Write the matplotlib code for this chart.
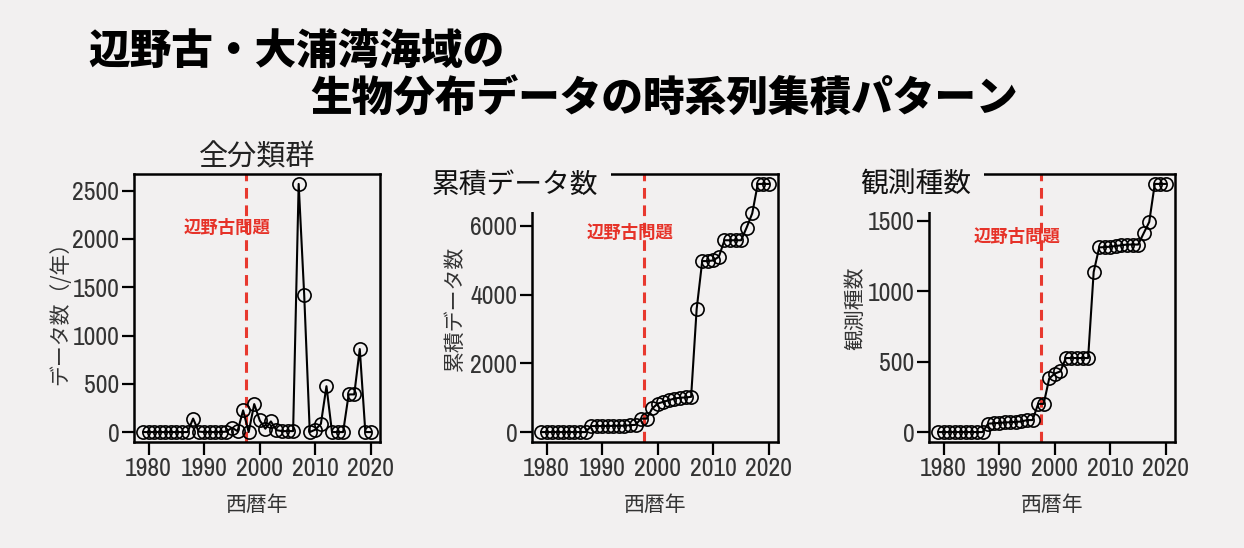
import matplotlib.pyplot as plt
from matplotlib import font_manager

# CJK font first, DejaVu as fallback for anything missing
plt.rcParams['font.family'] = ['Noto Sans CJK JP', 'DejaVu Sans']

# data
years = list(range(1979, 2021))
annual_counts = [0, 0, 0, 0, 0, 0, 0, 0, 0, 140,
                 5, 0, 0, 0, 0, 5, 45, 10, 225, 0,
                 290, 120, 35, 110, 20, 10, 10, 10, 2570, 1415,
                 0, 25, 85, 475, 0, 0, 0, 390, 390, 860,
                 0, 0]
cumulative_counts = [0, 0, 0, 0, 0, 0, 0, 0, 0, 175,
                     175, 175, 178, 180, 182, 185, 200, 210, 392, 392,
                     686, 830, 880, 928, 976, 1000, 1006, 1025, 3582, 4975,
                     4975, 4995, 5104, 5581, 5581, 5581, 5581, 5952, 6362, 7220,
                     7220, 7220]
species_counts = [0, 0, 0, 0, 0, 0, 0, 0, 0, 60,
                  62, 65, 68, 70, 72, 75, 85, 85, 200, 200,
                  380, 415, 430, 525, 525, 525, 525, 525, 1135, 1310,
                  1312, 1315, 1320, 1325, 1330, 1330, 1330, 1410, 1490, 1760,
                  1760, 1760]

panel_titles = ['全分類群', '累積データ数', '観測種数']
y_labels = ['データ数（/年）', '累積データ数', '観測種数']
y_ticks = [[0, 500, 1000, 1500, 2000, 2500],
           [0, 2000, 4000, 6000],
           [0, 500, 1000, 1500]]
x_ticks = [1980, 1990, 2000, 2010, 2020]
event_year = 1997.5
event_label = '辺野古問題'
title_line1 = '辺野古・大浦湾海域の'
title_line2 = '生物分布データの時系列集積パターン'

bg = '#f2f0f0'

# tick numbers in the reference are in a narrow font; use one if installed
tick_font = None
tick_stretch = 'normal'
tick_size = 18.5
for f in font_manager.fontManager.ttflist:
    if 'Narrow' in f.name or 'Condensed' in f.name:
        tick_font = f.name
        break
if tick_font is None:
    for f in font_manager.fontManager.ttflist:
        if f.stretch in ('condensed', 'semi-condensed', 'extra-condensed') and 'Mono' not in f.name:
            tick_font = f.name
            tick_stretch = f.stretch
            tick_size = 15
            break
if tick_font is None:
    tick_font = 'Liberation Sans'
    tick_size = 13.5

fig = plt.figure(figsize=(12.44, 5.48), dpi=100, facecolor=bg)

lefts = [134, 532, 929]
series = [annual_counts, cumulative_counts, species_counts]
event_pos = [(0.377, 0.80), (0.40, 0.78), (0.36, 0.766)]
ylabel_x = [-0.30, -0.315, -0.30]

for i in range(3):
    ax = fig.add_axes([lefts[i] / 1244, 106 / 548, 246 / 1244, 268 / 548])
    ax.set_facecolor(bg)
    ax.plot(years, series[i], color='black', lw=1.5, marker='o', ms=9.5,
            mfc='none', mec='black', mew=1.2, zorder=3)
    ax.axvline(event_year, color='#e8392f', lw=2.2, ls=(0, (3.5, 2.2)), zorder=2)
    ax.margins(x=0.04, y=0.04)
    ax.set_xticks(x_ticks)
    ax.set_yticks(y_ticks[i])
    for s in ax.spines.values():
        s.set_linewidth(1.8)
    ax.tick_params(direction='out', length=9, width=1.6, labelsize=tick_size,
                   pad=1.5, labelcolor='#333333')
    for lab in ax.get_xticklabels() + ax.get_yticklabels():
        lab.set_fontfamily(tick_font)
        lab.set_fontstretch(tick_stretch)
    ax.set_xlabel('西暦年', fontsize=15, color='#333333', va='center')
    ax.xaxis.set_label_coords(0.5, -0.235)
    ax.set_ylabel(y_labels[i], fontsize=15, color='#333333', va='center')
    ax.yaxis.set_label_coords(ylabel_x[i], 0.5)
    ax.text(event_pos[i][0], event_pos[i][1], event_label, transform=ax.transAxes,
            ha='center', va='center', color='#e63228', fontsize=12.5,
            fontweight='bold')

    if i == 0:
        ax.text(0.5, 1.06, panel_titles[i], transform=ax.transAxes,
                ha='center', va='center', fontsize=21, color='#222222')
    else:
        # title sits over the top-left corner of the box
        tx = -0.406 if i == 1 else -0.28
        ax.text(tx, 0.959, panel_titles[i], transform=ax.transAxes,
                ha='left', va='center', fontsize=20, color='#111111',
                zorder=10, clip_on=False,
                bbox=dict(boxstyle='square,pad=0.45', fc=bg, ec='none'))

fig.text(88 / 1244, 1 - 52 / 548, title_line1, ha='left', va='center',
         fontsize=30, fontweight='heavy', color='black')
fig.text(310 / 1244, 1 - 100 / 548, title_line2, ha='left', va='center',
         fontsize=30, fontweight='heavy', color='black')

fig.savefig('out.png', dpi=100, facecolor=bg)
